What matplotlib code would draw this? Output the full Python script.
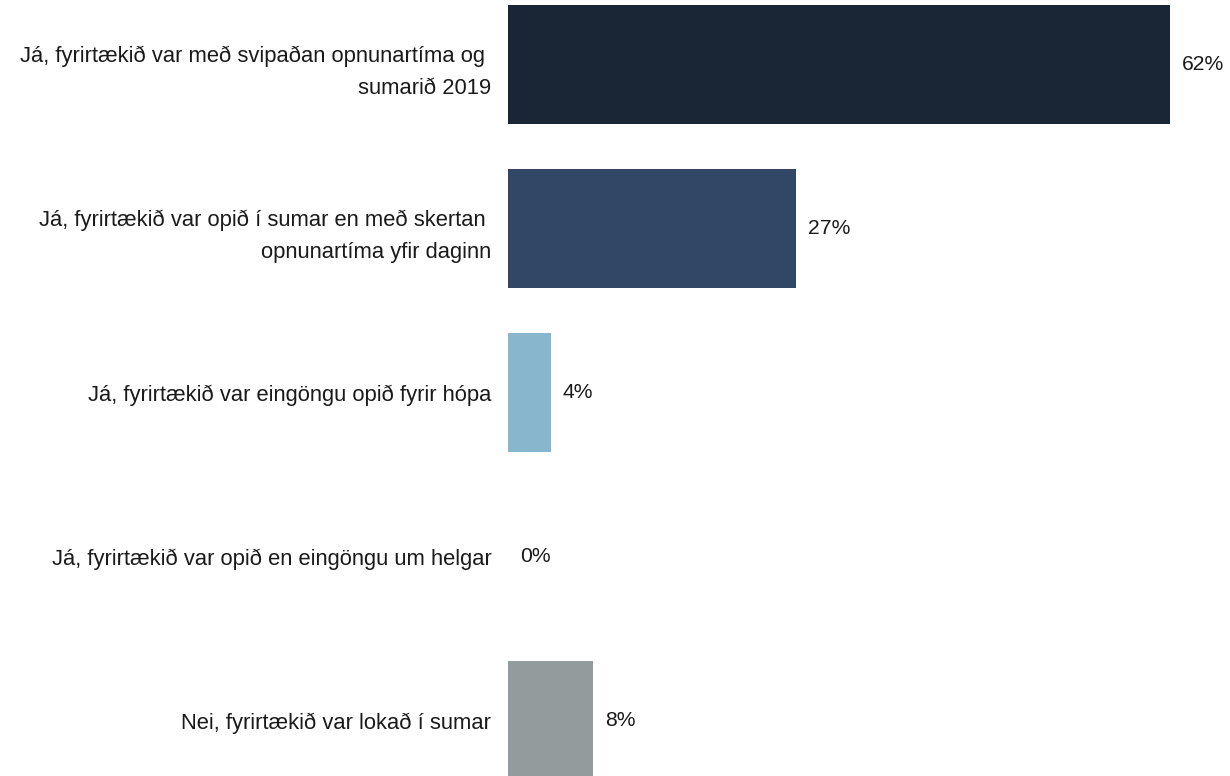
import matplotlib
matplotlib.use("Agg")
import matplotlib.pyplot as plt

# svör og hlutföll (%)
categories = [
    "Já, fyrirtækið var með svipaðan opnunartíma og \nsumarið 2019",
    "Já, fyrirtækið var opið í sumar en með skertan \nopnunartíma yfir daginn",
    "Já, fyrirtækið var eingöngu opið fyrir hópa",
    "Já, fyrirtækið var opið en eingöngu um helgar",
    "Nei, fyrirtækið var lokað í sumar",
]
values = [62, 27, 4, 0, 8]
value_labels = ["62%", "27%", "4%", "0%", "8%"]
colors = ["#1a2636", "#324665", "#87b6cd", "#87b6cd", "#949b9c"]

plt.rcParams["font.family"] = ["Liberation Sans", "DejaVu Sans"]

fig = plt.figure(figsize=(12.3, 7.76), dpi=100)
ax = fig.add_axes([508 / 1230, 0, 1 - 508 / 1230, 1])

y = list(range(len(values)))
ax.barh(y, values, height=0.725, color=colors)
ax.set_xlim(0, 722 / 10.68)
ax.set_ylim(4.338, -0.393)

ax.set_yticks(y)
ax.set_yticklabels(categories, fontsize=15.8, linespacing=1.7, color="#1a1a1a")
ax.tick_params(axis="y", length=0, pad=12)
ax.set_xticks([])
for s in ax.spines.values():
    s.set_visible(False)

for yi, v, lab in zip(y, values, value_labels):
    ax.annotate(lab, (v, yi), xytext=(12, 0), textcoords="offset pixels",
                va="center", ha="left", fontsize=15.2, color="#1a1a1a")

fig.savefig("out.png", dpi=100)
